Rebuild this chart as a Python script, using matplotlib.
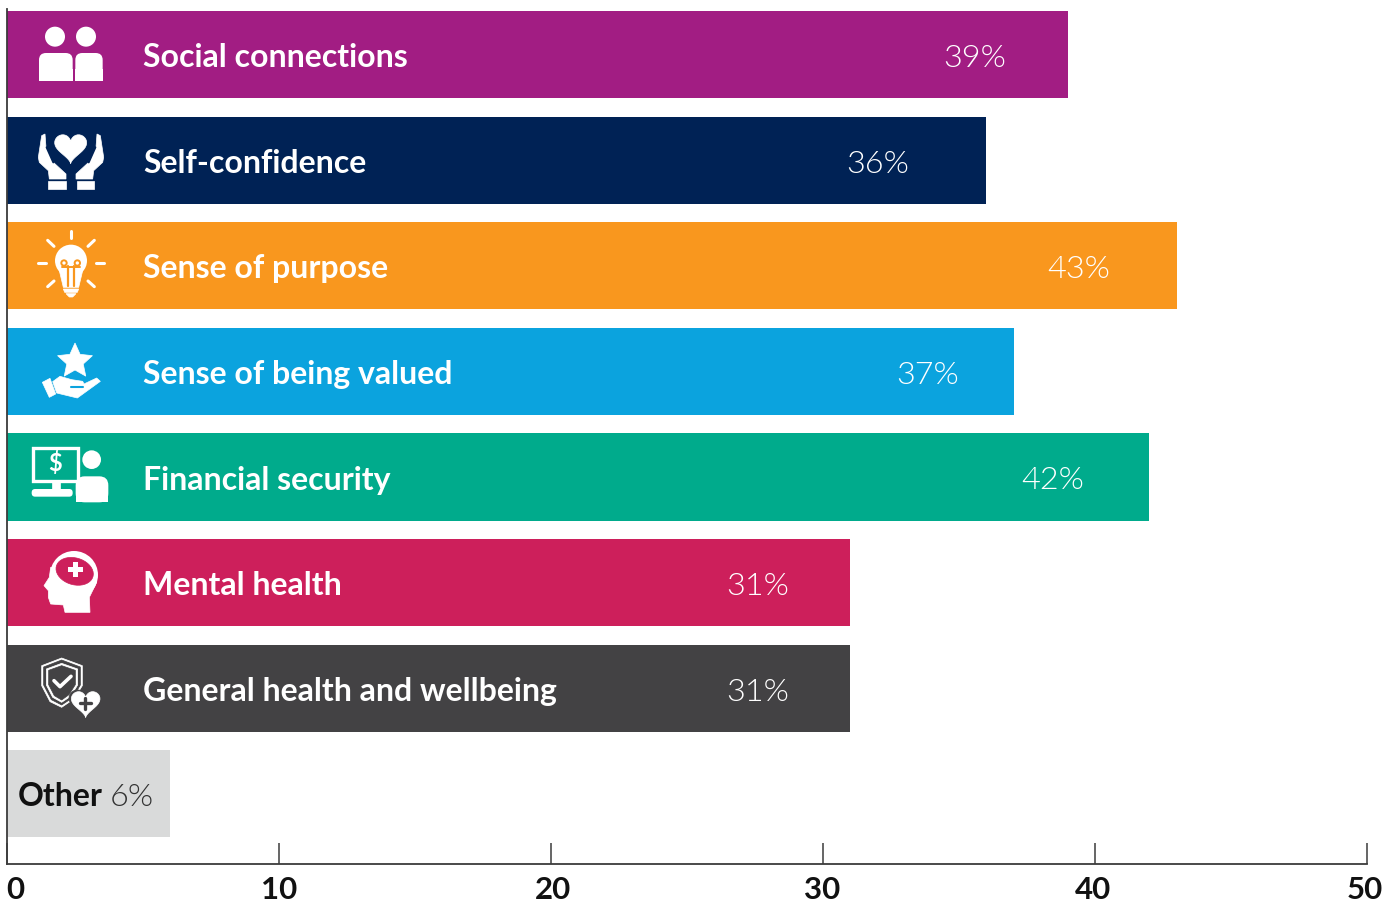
import os
import numpy as np
import matplotlib.pyplot as plt
from matplotlib import font_manager as fm
from matplotlib.patches import Circle, FancyBboxPatch, Polygon, Rectangle
from matplotlib.transforms import ScaledTranslation

plt.rcParams['font.family'] = ['Lato', 'DejaVu Sans']

categories = ['Social connections', 'Self-confidence', 'Sense of purpose', 'Sense of being valued',
              'Financial security', 'Mental health', 'General health and wellbeing', 'Other']
values = [39, 36, 43, 37, 42, 31, 31, 6]
colors = ['#A21D83', '#002255', '#F9971E', '#0BA3DE', '#00AB8C', '#CD1F5B', '#434244', '#D9DADA']
# how far in from the bar end each percentage sits
pct_inset = [2.27, 2.82, 2.45, 2.0, 2.4, 2.25, 2.25]
xticks = [0, 10, 20, 30, 40, 50]
tick_nudge = [8, 0, 1.5, -1, -2, -2]

# Lato Light is asked for by file, the weight lookup lands on the hairline cut
light_files = [f.fname for f in fm.fontManager.ttflist
               if f.name.startswith('Lato') and os.path.basename(f.fname).lower().endswith('-light.ttf')]
if light_files:
    light = fm.FontProperties(fname=light_files[0], size=23.3)
else:
    light = fm.FontProperties(family='Lato', weight='normal', size=23.3)

W, H = 1397, 904
fig = plt.figure(figsize=(W / 100, H / 100), dpi=100)
ax = fig.add_axes([7.1 / W, 1 - 864.6 / H, 1360 / W, 854.6 / H])

y = np.arange(len(categories))
ax.barh(y, values, height=0.825, color=colors)
ax.set_xlim(0, 50)
ax.set_ylim(7 + 69.9 / 105.6, -45.7 / 105.6)

for s in ['top', 'right']:
    ax.spines[s].set_visible(False)
for s in ['left', 'bottom']:
    ax.spines[s].set_color('#3c3c3c')
    ax.spines[s].set_linewidth(1.3)
ax.set_yticks([])
ax.set_xticks(xticks)
ax.set_xticklabels([str(t) for t in xticks], fontsize=22.5, fontweight='bold', color='#111111')
ax.tick_params(axis='x', direction='in', length=15, width=1.1, color='#3c3c3c', pad=8)
for lab, dx in zip(ax.get_xticklabels(), tick_nudge):
    lab.set_transform(lab.get_transform() + ScaledTranslation(dx / 100, 0, fig.dpi_scale_trans))

for i in range(7):
    ax.text(5, i + 0.02, categories[i], color='white', fontsize=23, fontweight='bold', va='center')
    ax.text(values[i] - pct_inset[i], i + 0.028, f'{values[i]}%', color='white', fontproperties=light,
            va='center', ha='right')
ax.text(0.4, 7 + 0.02, categories[7], color='#111111', fontsize=23, fontweight='bold', va='center')
ax.text(5.4, 7 + 0.028, f'{values[7]}%', color='#333333', fontproperties=light, va='center', ha='right')

# icon layer, in pixel coordinates
ic = fig.add_axes([0, 0, 1, 1], facecolor='none')
ic.set_xlim(0, W)
ic.set_ylim(H, 0)
ic.axis('off')


def pts(coords, top=0):
    # icon outlines were sketched at 3x scale
    return [(px / 3, py / 3 + top) for px, py in coords]


def poly(coords, top=0, color='white', **kw):
    ic.add_patch(Polygon(pts(coords, top), closed=True, facecolor=color, edgecolor=color, lw=0.5, **kw))


def line(coords, top=0, color='white', lw=2.2):
    p = pts(coords, top)
    ic.plot([a for a, b in p], [b for a, b in p], color=color, lw=lw, solid_capstyle='round')


def circ(px, py, r, top=0, color='white'):
    ic.add_patch(Circle((px / 3, py / 3 + top), r / 3, facecolor=color, edgecolor='none'))


def rrect(x0, y0, x1, y1, top=0, color='white', rad=4):
    ic.add_patch(FancyBboxPatch((x0 / 3 + rad, y0 / 3 + top + rad), (x1 - x0) / 3 - 2 * rad, (y1 - y0) / 3 - 2 * rad,
                                boxstyle=f'round,pad={rad}', facecolor=color, edgecolor='none'))


def heart(cx, cy, s, top=0, color='white'):
    t = np.linspace(0, 2 * np.pi, 60)
    hx = 16 * np.sin(t) ** 3 / 16
    hy = -(13 * np.cos(t) - 5 * np.cos(2 * t) - 2 * np.cos(3 * t) - np.cos(4 * t)) / 16
    poly(list(zip(cx + hx * s, cy + hy * s)), top, color)


# people
circ(165, 113, 30)
circ(258, 113, 30)
rrect(117, 162, 218, 245, rad=7)
rrect(226, 162, 308, 245, rad=7)
ic.add_patch(Rectangle((39, 70), 34, 12, facecolor='white', edgecolor='none'))
ic.add_patch(Rectangle((75.3, 70), 27.4, 12, facecolor='white', edgecolor='none'))

# hands holding a heart
heart(212, 443, 48)
left_hand = [(115, 475), (125, 410), (135, 405), (138, 445), (160, 490), (198, 525), (198, 540), (148, 540),
             (145, 515), (118, 490)]
poly(left_hand)
poly([(426 - a, b) for a, b in left_hand])
line([(140, 445), (160, 490)], color=colors[1], lw=1.5)
line([(286, 445), (266, 490)], color=colors[1], lw=1.5)
poly([(145, 547), (197, 547), (197, 570), (145, 570)])
poly([(230, 547), (283, 547), (283, 570), (230, 570)])

# light bulb
for seg in [[(213, 695), (213, 718)], [(114, 793), (138, 793)], [(288, 793), (312, 793)],
            [(143, 724), (162, 742)], [(283, 724), (264, 742)], [(143, 863), (162, 846)], [(283, 863), (264, 846)]]:
    line(seg)
circ(213, 785, 48)
poly([(178, 815), (248, 815), (236, 865), (190, 865)])
poly([(190, 870), (236, 870), (232, 880), (194, 880)])
poly([(198, 884), (228, 884), (218, 894), (208, 894)])
circ(192, 792, 11, color=colors[2])
circ(232, 792, 11, color=colors[2])
circ(192, 792, 5)
circ(232, 792, 5)
line([(205, 800), (205, 860)], color=colors[2], lw=1.6)
line([(222, 800), (222, 860)], color=colors[2], lw=1.6)
line([(185, 805), (240, 805)], color=colors[2], lw=1.4)

# star over an open hand
t = np.deg2rad(np.arange(10) * 36 - 90)
r = np.where(np.arange(10) % 2 == 0, 55, 26)
poly(list(zip(225 + r * np.cos(t), 127 + r * np.sin(t))), 320)
poly([(127, 190), (150, 178), (167, 225), (148, 235)], 320)
poly([(158, 188), (180, 172), (215, 182), (248, 187), (252, 195), (290, 177), (301, 187), (232, 237), (170, 222)], 320)
line([(212, 204), (250, 204)], 320, color=colors[3], lw=1.5)

# monitor and person
ic.add_patch(Rectangle((33, 449), 45, 33, facecolor='none', edgecolor='white', lw=2.4))
poly([(155, 487), (180, 487), (180, 510), (155, 510)], 320)
rrect(95, 510, 218, 533, 320, rad=3.5)
ic.text(55, 463.5, '$', color='white', fontsize=17, fontweight='bold', ha='center', va='center')
circ(275, 422, 28, 320)
rrect(227, 472, 325, 550, 320, rad=9)
ic.add_patch(Rectangle((75.7, 494), 32.6, 9.3, facecolor='white', edgecolor='none'))

# head with brain
circ(222, 768, 72, 320)
poly([(195, 880), (270, 880), (268, 835), (290, 790), (152, 745), (148, 775), (132, 800), (145, 815), (145, 835),
      (152, 855), (190, 858)], 320)
th = np.linspace(0, 2 * np.pi, 40)
poly(list(zip(224 + 56 * np.cos(th), 757 + 41 * np.sin(th) + 8 * np.cos(th))), 320, color=colors[5])
ic.add_patch(Rectangle((72.5, 570 - 7.5), 5, 15, facecolor='white', edgecolor='none'))
ic.add_patch(Rectangle((67.5, 570 - 2.5), 15, 5, facecolor='white', edgecolor='none'))

# shield and heart
outer = [(185, 1017), (247, 1040), (247, 1100), (222, 1140), (185, 1165), (150, 1148), (125, 1100), (125, 1040)]
inner = [(185, 1033), (233, 1050), (233, 1098), (212, 1132), (185, 1150), (158, 1135), (139, 1098), (139, 1050)]
poly(outer, 320)
poly([(185, 1023), (241, 1044), (241, 1098), (218, 1136), (185, 1158), (154, 1142), (131, 1098), (131, 1044)],
     320, color=colors[6])
poly(inner, 320)
poly([(185, 1040), (226, 1054), (226, 1097), (207, 1127), (185, 1143), (163, 1130), (146, 1097), (146, 1054)],
     320, color=colors[6])
line([(162, 1085), (180, 1103), (213, 1072)], 320, lw=2.6)
heart(257, 1150, 50, 320, color=colors[6])
heart(257, 1150, 43, 320)
line([(240, 1153), (274, 1153)], 320, color=colors[6], lw=2.4)
line([(256, 1137), (256, 1170)], 320, color=colors[6], lw=2.4)

fig.savefig('out.png', dpi=100)
